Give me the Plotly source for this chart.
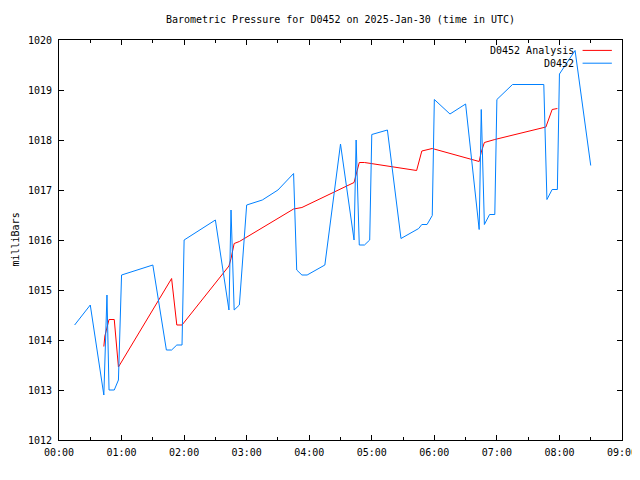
import plotly.graph_objects as go

DAY = "2025-01-30"

# D0452 observations
obs_times = ["00:15", "00:30", "00:43", "00:46", "00:48", "00:53", "00:57", "01:00",
             "01:30", "01:43", "01:48", "01:53", "01:58", "02:00", "02:30", "02:43",
             "02:45", "02:48", "02:53", "03:00", "03:15", "03:30", "03:45", "03:48",
             "03:53", "03:58", "04:15", "04:30", "04:43", "04:45", "04:48", "04:53",
             "04:58", "05:00", "05:15", "05:28", "05:45", "05:48", "05:53", "05:58",
             "06:00", "06:15", "06:30", "06:43", "06:45", "06:48", "06:53", "06:58",
             "07:00", "07:15", "07:45", "07:48", "07:53", "07:58", "08:00", "08:15",
             "08:30"]
obs_values = [1014.30, 1014.70, 1012.90, 1014.90, 1013.00, 1013.00, 1013.20, 1015.30,
              1015.50, 1013.80, 1013.80, 1013.90, 1013.90, 1016.00, 1016.40, 1014.60,
              1016.60, 1014.60, 1014.70, 1016.70, 1016.80, 1017.00, 1017.33, 1015.40,
              1015.30, 1015.30, 1015.50, 1017.92, 1016.00, 1018.00, 1015.90, 1015.90,
              1016.00, 1018.11, 1018.20, 1016.03, 1016.23, 1016.31, 1016.31, 1016.49,
              1018.81, 1018.52, 1018.72, 1016.21, 1018.61, 1016.31, 1016.51, 1016.51,
              1018.81, 1019.11, 1019.11, 1016.81, 1017.01, 1017.01, 1019.32, 1019.79,
              1017.49]

# D0452 Analysis
ana_times = ["00:43", "00:44", "00:48", "00:53", "00:57", "01:45", "01:48", "01:53",
             "01:58", "02:43", "02:45", "02:48", "02:53", "03:45", "03:53", "04:43",
             "04:48", "04:53", "05:43", "05:48", "05:58", "06:43", "06:45", "06:48",
             "06:58", "07:47", "07:53", "07:58"]
ana_values = [1013.87, 1014.08, 1014.41, 1014.41, 1013.46, 1015.10, 1015.23, 1014.30,
              1014.30, 1015.48, 1015.63, 1015.93, 1015.97, 1016.62, 1016.65, 1017.15,
              1017.55, 1017.55, 1017.39, 1017.78, 1017.83, 1017.57, 1017.76, 1017.95,
              1018.01, 1018.26, 1018.61, 1018.63]

x_range = [DAY + " 00:00", DAY + " 09:00"]
y_range = [1012, 1020]

RED = "#ff0000"
BLUE = "#0080ff"
FONT = "DejaVu Sans Mono"

fig = go.Figure()
fig.add_trace(go.Scatter(x=[DAY + " " + t for t in ana_times], y=ana_values,
                         mode="lines", line=dict(color=RED, width=1),
                         name="D0452 Analysis"))
fig.add_trace(go.Scatter(x=[DAY + " " + t for t in obs_times], y=obs_values,
                         mode="lines", line=dict(color=BLUE, width=1),
                         name="D0452"))

fig.update_layout(
    width=640, height=480,
    margin=dict(l=51, r=26, t=32, b=48, autoexpand=False),
    paper_bgcolor="white", plot_bgcolor="white",
    showlegend=False,
    font=dict(family=FONT, size=10, color="black"),
    title=dict(text="Barometric Pressure for D0452 on 2025-Jan-30 (time in UTC)",
               xref="paper", x=0.5, xanchor="center", y=0.977, yanchor="middle",
               font=dict(family=FONT, size=10, color="black")),
)
fig.update_xaxes(
    type="date", range=x_range, dtick=3600000, tick0=DAY + " 00:00",
    tickformat="%H:%M", ticks="inside", ticklen=5, tickcolor="black",
    showline=True, linecolor="black", linewidth=1, mirror="ticks",
    showgrid=False, zeroline=False, automargin=False, ticklabelstandoff=3,
    minor=dict(dtick=1800000, ticks="inside", ticklen=3, tickcolor="black", showgrid=False),
    tickfont=dict(family=FONT, size=10, color="black"),
)
fig.update_yaxes(
    range=y_range, dtick=1, ticks="inside", ticklen=5, tickcolor="black",
    showline=True, linecolor="black", linewidth=1, mirror="ticks",
    showgrid=False, zeroline=False, automargin=False, ticklabelstandoff=4,
    tickfont=dict(family=FONT, size=10, color="black"),
)

# y-axis title placed like gnuplot's ylabel
fig.add_annotation(text="milliBars", xref="paper", yref="paper", x=-0.079, y=0.5,
                   xanchor="center", yanchor="middle", textangle=-90, showarrow=False,
                   font=dict(family=FONT, size=10, color="black"))

# gnuplot-style legend: text on the left, line sample on the right
legend_rows = [("D0452 Analysis", RED, 0.974), ("D0452", BLUE, 0.942)]
for label, color, yy in legend_rows:
    fig.add_annotation(text=label, xref="paper", yref="paper", x=0.918, y=yy,
                       xanchor="right", yanchor="middle", showarrow=False,
                       font=dict(family=FONT, size=10, color="black"))
    fig.add_shape(type="line", xref="paper", yref="paper", x0=0.93, x1=0.982,
                  y0=yy, y1=yy, line=dict(color=color, width=1))

fig.write_html("out.html")
